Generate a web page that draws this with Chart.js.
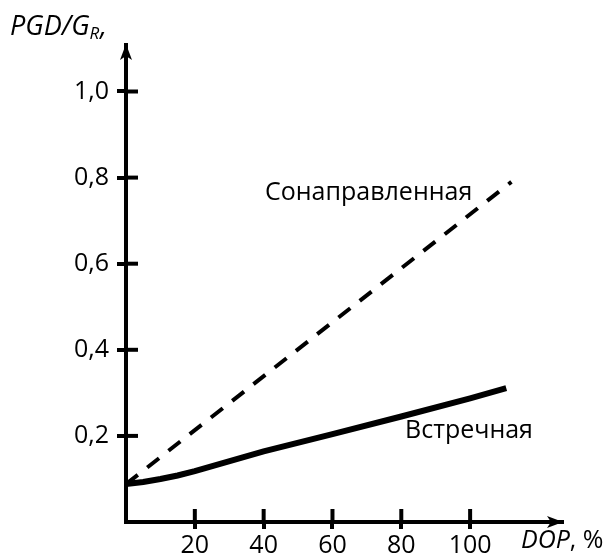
<!DOCTYPE html>
<html><head><meta charset="utf-8">
<script src="https://cdn.jsdelivr.net/npm/chart.js@4"></script>
<style>html,body{margin:0;padding:0;background:#fff;overflow:hidden}</style>
</head><body>
<canvas id="c" width="610" height="554"></canvas>
<script>
// ---- data ----
const counterDop = [0, 5, 10, 15, 20, 40, 60, 80, 100, 110.5];
const counterValues = [0.088, 0.093, 0.100, 0.108, 0.118, 0.164, 0.204, 0.245, 0.287, 0.311];
const codirDop = [0, 112];
const codirValues = [0.088, 0.790];
const xTicks = [20, 40, 60, 80, 100];
const yTicks = [0.2, 0.4, 0.6, 0.8, 1.0];
const seriesNames = ['Сонаправленная', 'Встречная'];
const xTitle = 'DOP';
const xUnit = ', %';
const yTitle = 'PGD/G';
const yTitleSub = 'R';

const FONT = '"Open Sans", "DejaVu Sans", sans-serif';
const FS = 25;

const extras = {
  id: 'extras',
  afterDraw(chart) {
    const ctx = chart.ctx;
    const xs = chart.scales.x, ys = chart.scales.y;
    const left = xs.getPixelForValue(0), bottom = ys.getPixelForValue(0);
    ctx.save();
    ctx.strokeStyle = '#000'; ctx.fillStyle = '#000'; ctx.lineWidth = 4;
    // inward halves of the tick marks
    xTicks.forEach(v => {
      const p = xs.getPixelForValue(v);
      ctx.beginPath(); ctx.moveTo(p, bottom); ctx.lineTo(p, bottom - 13); ctx.stroke();
    });
    yTicks.forEach(v => {
      const p = ys.getPixelForValue(v);
      ctx.beginPath(); ctx.moveTo(left, p); ctx.lineTo(left + 12, p); ctx.stroke();
    });
    // arrow heads
    const yt = ys.getPixelForValue(ys.max);
    ctx.beginPath();
    ctx.moveTo(left, yt - 1); ctx.lineTo(left - 6, yt + 15); ctx.lineTo(left, yt + 11); ctx.lineTo(left + 6, yt + 15);
    ctx.closePath(); ctx.fill();
    const xr = xs.getPixelForValue(xs.max);
    ctx.beginPath();
    ctx.moveTo(xr + 1, bottom); ctx.lineTo(xr - 15, bottom - 6); ctx.lineTo(xr - 11, bottom); ctx.lineTo(xr - 15, bottom + 6);
    ctx.closePath(); ctx.fill();
    // series annotations
    ctx.textBaseline = 'alphabetic';
    ctx.textAlign = 'left';
    ctx.font = FS + 'px ' + FONT;
    ctx.fillText(seriesNames[0], 265, 200);
    ctx.fillText(seriesNames[1], 405, 438);
    // y title
    ctx.font = 'italic 27px ' + FONT;
    ctx.fillText(yTitle, 10, 35);
    let w = ctx.measureText(yTitle).width;
    ctx.font = 'italic 17px ' + FONT;
    ctx.fillText(yTitleSub, 10 + w, 39);
    const w2 = ctx.measureText(yTitleSub).width;
    ctx.font = 'italic 27px ' + FONT;
    ctx.fillText(',', 10 + w + w2 + 1, 35);
    // x title
    ctx.font = 'italic ' + FS + 'px ' + FONT;
    ctx.fillText(xTitle, 521, 548);
    w = ctx.measureText(xTitle).width;
    ctx.font = FS + 'px ' + FONT;
    ctx.fillText(xUnit, 521 + w, 548);
    ctx.restore();
  }
};

new Chart(document.getElementById('c'), {
  type: 'line',
  data: {
    datasets: [
      {
        label: seriesNames[0],
        data: codirDop.map((x, i) => ({ x, y: codirValues[i] })),
        borderColor: '#000', borderWidth: 4, borderDash: [15, 12], borderCapStyle: 'butt',
        pointRadius: 0, tension: 0, fill: false
      },
      {
        label: seriesNames[1],
        data: counterDop.map((x, i) => ({ x, y: counterValues[i] })),
        borderColor: '#000', borderWidth: 6, borderCapStyle: 'butt',
        pointRadius: 0, tension: 0, fill: false
      }
    ]
  },
  options: {
    responsive: false, animation: false, devicePixelRatio: 1,
    layout: { padding: { top: 45, right: 48, left: 0, bottom: 0 } },
    plugins: { legend: { display: false }, tooltip: { enabled: false } },
    scales: {
      x: {
        type: 'linear', min: 0, max: 126.7,
        afterBuildTicks: s => { s.ticks = xTicks.map(v => ({ value: v })); },
        afterFit: s => { s.height = 32; },
        grid: { drawOnChartArea: false, drawTicks: true, tickLength: 7, color: '#000', lineWidth: 4 },
        border: { display: true, color: '#000', width: 4 },
        ticks: { color: '#000', font: { family: FONT, size: FS }, padding: 2, maxRotation: 0, autoSkip: false }
      },
      y: {
        type: 'linear', min: 0, max: 1.108,
        afterBuildTicks: s => { s.ticks = yTicks.map(v => ({ value: v })); },
        afterFit: s => { s.width = 126; },
        grid: { drawOnChartArea: false, drawTicks: true, tickLength: 9, color: '#000', lineWidth: 4 },
        border: { display: true, color: '#000', width: 4 },
        ticks: { color: '#000', font: { family: FONT, size: FS }, padding: 8, autoSkip: false,
                 callback: v => v.toFixed(1).replace('.', ',') }
      }
    }
  },
  plugins: [extras]
});
</script>
</body></html>
